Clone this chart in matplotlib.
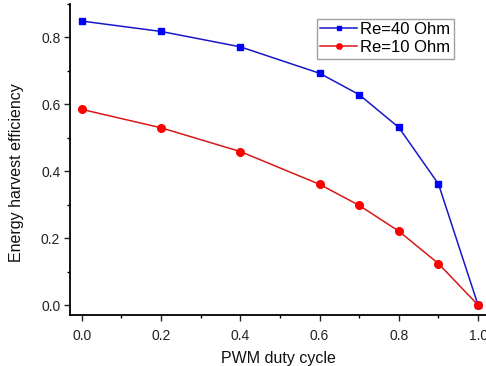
import matplotlib
matplotlib.use("Agg")
import matplotlib.pyplot as plt
from matplotlib.ticker import MultipleLocator

plt.rcParams['font.family'] = ['Liberation Sans', 'DejaVu Sans']

duty = [0.0, 0.2, 0.4, 0.6, 0.7, 0.8, 0.9, 1.0]
eff_40 = [0.849, 0.818, 0.772, 0.693, 0.629, 0.531, 0.362, 0.0]
eff_10 = [0.585, 0.530, 0.459, 0.361, 0.298, 0.221, 0.124, 0.0]
xticks = [0.0, 0.2, 0.4, 0.6, 0.8, 1.0]
yticks = [0.0, 0.2, 0.4, 0.6, 0.8]

fig = plt.figure(figsize=(4.86, 3.66), dpi=100)
ax = fig.add_axes([0.144, 0.139, 0.856, 0.85])

ax.plot(duty, eff_40, color='#1818c8', lw=1.1, marker='s', ms=5,
        mfc='#0000ff', mec='#0000ff', label='Re=40 Ohm')
ax.plot(duty, eff_10, color='#d81818', lw=1.1, marker='o', ms=5.5,
        mfc='#ff0000', mec='#ff0000', label='Re=10 Ohm')

ax.set_xlim(-0.03, 1.02)
ax.set_ylim(-0.03, 0.9)
ax.set_xticks(xticks)
ax.set_yticks(yticks)
ax.set_xticklabels([f'{v:.1f}' for v in xticks])
ax.set_yticklabels([f'{v:.1f}' for v in yticks])
ax.xaxis.set_minor_locator(MultipleLocator(0.1))
ax.yaxis.set_minor_locator(MultipleLocator(0.1))

for side in ('top', 'right'):
    ax.spines[side].set_visible(False)
for side in ('left', 'bottom'):
    ax.spines[side].set_linewidth(1.3)

ax.tick_params(which='major', direction='out', length=4, width=1, labelsize=10,
               colors='#222222', pad=3)
ax.tick_params(which='minor', direction='out', length=2.5, width=1)
ax.tick_params(axis='x', pad=6)

ax.set_xlabel('PWM duty cycle', fontsize=11.5, color='#111111', labelpad=6)
ax.set_ylabel('Energy harvest efficiency', fontsize=11.5, color='#111111')
ax.yaxis.set_label_coords(-0.11, 0.457)

leg = ax.legend(loc='upper left', bbox_to_anchor=(0.594, 0.952), fontsize=12,
                frameon=True, fancybox=False, edgecolor='#888888',
                handlelength=2.2, handletextpad=0.2, borderpad=0.2,
                labelspacing=0.18, borderaxespad=0, markerscale=0.7)
leg.get_frame().set_linewidth(1.0)

fig.savefig('out.png', dpi=100)
